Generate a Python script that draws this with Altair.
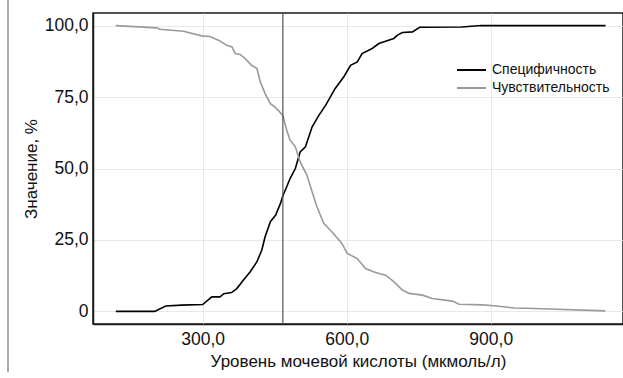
import altair as alt
import pandas as pd

series = ["Специфичность", "Чувствительность"]
spec_x = [119, 200, 223, 256, 300, 319, 336, 344, 360, 371, 385, 399, 413, 423, 430, 441,
          452, 462, 467, 475, 482, 493, 503, 514, 528, 542, 556, 576, 594, 608, 622, 632,
          653, 667, 681, 698, 705, 716, 737, 752, 840, 880, 1139]
spec_y = [0, 0, 1.9, 2.2, 2.4, 5.1, 5.1, 6.2, 6.6, 8.0, 11.0, 13.9, 17.4, 21.4, 26.1, 31.4,
          33.7, 37.8, 40.5, 43.6, 46.5, 50.0, 55.8, 57.6, 64.6, 68.6, 72.1, 78.0, 82.1, 86.1, 87.3, 90.2,
          92.0, 93.7, 94.5, 95.5, 96.6, 97.6, 97.8, 99.4, 99.5, 100, 100]
sens_x = [119, 204, 211, 260, 298, 315, 333, 350, 361, 368, 378, 388, 402, 413, 420, 430,
          441, 452, 467, 475, 482, 493, 503, 517, 528, 538, 552, 569, 590, 601, 622, 639,
          660, 681, 698, 716, 730, 758, 778, 820, 834, 883, 907, 949, 991, 1139]
sens_y = [100, 99.2, 98.7, 98.0, 96.4, 96.2, 94.9, 93.1, 92.5, 90.2, 89.9, 88.5, 86.1, 85.0, 80.3, 76.2,
          72.7, 71.3, 68.6, 63.4, 59.9, 57.6, 52.3, 47.7, 41.8, 36.6, 30.8, 27.9, 23.8, 20.3, 18.5, 15.0,
          13.6, 12.7, 10.4, 7.5, 6.3, 5.7, 4.5, 3.6, 2.5, 2.3, 2.0, 1.2, 1.0, 0.2]
cutoff = [467]
x_ticks = [300, 600, 900]
y_ticks = [0, 25, 50, 75, 100]
x_domain = [71.5, 1175.5]
y_domain = [-4.4, 104.4]

df = pd.concat([
    pd.DataFrame({"x": spec_x, "y": spec_y, "s": series[0]}),
    pd.DataFrame({"x": sens_x, "y": sens_y, "s": series[1]}),
], ignore_index=True)

FONT = "Liberation Sans"
xs = alt.Scale(domain=x_domain, nice=False, zero=False)
ys = alt.Scale(domain=y_domain, nice=False, zero=False)

lbl = "datum.value == 0 ? '0' : replace(format(datum.value, '.1f'), '.', ',')"

lines = alt.Chart(df).mark_line(strokeWidth=1.6).encode(
    x=alt.X("x:Q", scale=xs, axis=alt.Axis(
        values=x_ticks, title="Уровень мочевой кислоты (мкмоль/л)", labelExpr=lbl,
        grid=True, gridColor="#e8e8e8", gridWidth=1, ticks=False, labelPadding=6,
        domain=True, domainColor="#1a1a1a", domainWidth=1.5,
        labelFont=FONT, labelFontSize=17.5,
        labelColor="#111111", titleFont=FONT, titleFontSize=17, titleFontWeight="normal",
        titleColor="#111111", titlePadding=6)),
    y=alt.Y("y:Q", scale=ys, axis=alt.Axis(
        values=y_ticks, title="Значение, %", labelExpr=lbl,
        grid=True, gridColor="#e8e8e8", gridWidth=1, ticks=False, labelPadding=5,
        domain=True, domainColor="#1a1a1a", domainWidth=1.5,
        labelFont=FONT, labelFontSize=17.5,
        labelColor="#111111", titleFont=FONT, titleFontSize=17, titleFontWeight="normal",
        titleColor="#111111", titlePadding=4)),
    color=alt.Color("s:N", scale=alt.Scale(domain=series, range=["#000000", "#9a9a9a"]),
                    legend=alt.Legend(title=None, orient="none", legendX=363, legendY=49,
                                      symbolType="stroke", symbolSize=841, symbolStrokeWidth=2,
                                      clipHeight=16, rowPadding=2, labelOffset=5,
                                      labelFont=FONT, labelFontSize=14, labelColor="#111111")),
)

cut = alt.Chart(pd.DataFrame({"c": cutoff})).mark_rule(color="#555555", strokeWidth=1.2).encode(
    x=alt.X("c:Q", scale=xs)
)

side = alt.Chart(pd.DataFrame({"k": [0]})).mark_rule(color="#aaaaaa", strokeWidth=2).encode(
    x=alt.value(-85), y=alt.value(-13), y2=alt.value(359)
)

chart = alt.layer(lines, cut, side).properties(
    width=530, height=311,
    padding={"left": 93, "top": 13, "right": 0, "bottom": 54},
    autosize=alt.AutoSizeParams(type="none"),
).configure_view(stroke="#1a1a1a", strokeWidth=1.5)

chart.save("out.html", embed_options={"renderer": "svg", "actions": False})
